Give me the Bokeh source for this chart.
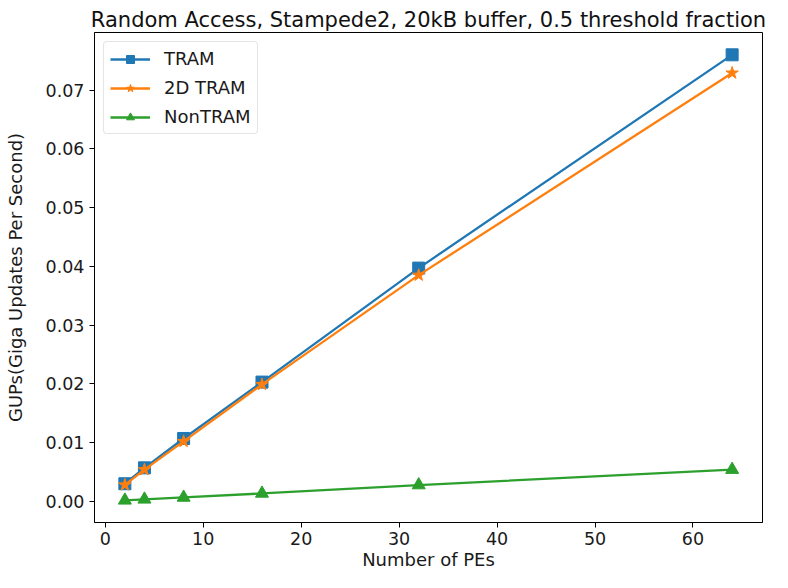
from bokeh.plotting import figure
from bokeh.models import Range1d, FixedTicker, Legend, LegendItem
from bokeh.embed import file_html
from bokeh.resources import INLINE

pes = [2, 4, 8, 16, 32, 64]
tram = [0.0030, 0.0057, 0.0107, 0.0203, 0.0397, 0.0760]
tram_2d = [0.0028, 0.0054, 0.0102, 0.0199, 0.0385, 0.0729]
non_tram = [0.00017, 0.00034, 0.00066, 0.00135, 0.00277, 0.0054]

x_ticks = [0, 10, 20, 30, 40, 50, 60]
y_ticks = [0.00, 0.01, 0.02, 0.03, 0.04, 0.05, 0.06, 0.07]
y_tick_labels = ["0.00", "0.01", "0.02", "0.03", "0.04", "0.05", "0.06", "0.07"]

title = "Random Access, Stampede2, 20kB buffer, 0.5 threshold fraction"
x_label = "Number of PEs"
y_label = "GUPs(Giga Updates Per Second)"

FONT = "DejaVu Sans"

p = figure(width=772, height=572, output_backend="svg", toolbar_location=None,
           x_range=Range1d(-1.1, 67.1), y_range=Range1d(-0.0036, 0.0798),
           min_border_left=94, min_border_right=10, min_border_top=32, min_border_bottom=48,
           title=title)

p.title.text_font = FONT
p.title.text_font_size = "21px"
p.title.text_font_style = "normal"
p.title.text_color = "#111111"
p.title.align = "center"
p.title.standoff = 2

p.xgrid.visible = False
p.ygrid.visible = False
p.outline_line_color = "black"
p.outline_line_width = 1
p.outline_line_alpha = 1

for ax in (p.xaxis[0], p.yaxis[0]):
    ax.axis_line_color = "black"
    ax.major_tick_line_color = "black"
    ax.major_tick_out = 5
    ax.major_tick_in = 0
    ax.minor_tick_line_color = None
    ax.major_label_text_font = FONT
    ax.major_label_text_font_size = "17.5px"
    ax.major_label_text_color = "#1a1a1a"
    ax.axis_label_text_font = FONT
    ax.axis_label_text_font_size = "18px"
    ax.axis_label_text_font_style = "normal"
    ax.axis_label_text_color = "#1a1a1a"

p.xaxis.ticker = FixedTicker(ticks=x_ticks)
p.yaxis.ticker = FixedTicker(ticks=y_ticks)
p.yaxis.major_label_overrides = {t: l for t, l in zip(y_ticks, y_tick_labels)}
p.xaxis.axis_label = x_label
p.yaxis.axis_label = y_label
p.xaxis.major_label_standoff = 4
p.yaxis.major_label_standoff = 5
p.xaxis.axis_label_standoff = 1
p.yaxis.axis_label_standoff = 17

series = [
    ("TRAM", tram, "#1f77b4", "square", 12),
    ("2D TRAM", tram_2d, "#ff7f0e", "star", 13),
    ("NonTRAM", non_tram, "#2ca02c", "triangle", 13),
]

items = []
for name, ys, color, marker, size in series:
    l = p.line(pes, ys, line_color=color, line_width=2.3)
    s = p.scatter(pes, ys, marker=marker, size=size, fill_color=color, line_color=color)
    items.append(LegendItem(label=name, renderers=[l, s]))

legend = Legend(items=items, location="top_left")
legend.margin = 9
legend.padding = 6
legend.spacing = 8
legend.glyph_width = 40
legend.glyph_height = 20
legend.label_height = 20
legend.label_standoff = 14
legend.label_text_font = FONT
legend.label_text_font_size = "18px"
legend.label_text_color = "#1a1a1a"
legend.border_line_color = "#cccccc"
legend.border_line_width = 1
legend.border_radius = 4
legend.background_fill_alpha = 0.8
p.add_layout(legend, "center")

open("out.html", "w").write(file_html(p, INLINE))
